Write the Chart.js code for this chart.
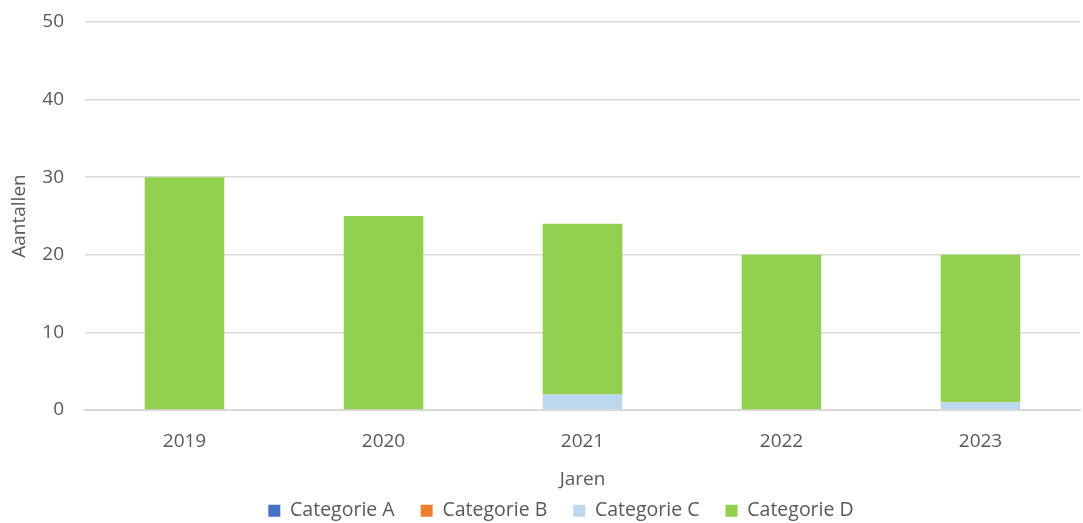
<!DOCTYPE html>
<html>
<head>
<meta charset="utf-8">
<script src="https://cdn.jsdelivr.net/npm/chart.js@4/dist/chart.umd.min.js"></script>
<style>
  html, body { margin: 0; padding: 0; background: #fff; }
  #wrap { width: 1083px; height: 523px; position: relative; }
</style>
</head>
<body>
<div id="wrap"><canvas id="chart"></canvas></div>
<script>
const years = ['2019', '2020', '2021', '2022', '2023'];
const catA = [0, 0, 0, 0, 0];
const catB = [0, 0, 0, 0, 0];
const catC = [0, 0, 2, 0, 1];
const catD = [30, 25, 22, 20, 19];
const yTicks = [0, 10, 20, 30, 40, 50];

const textColor = '#595959';
const font = { family: "'Open Sans', sans-serif", size: 19 };
const legendHeight = 24;
const legendTextY = 513;
const legendShiftX = 21;

// legend takes a thin strip at the bottom, drawn just under the axis title
const tightLegend = {
    id: 'tightLegend',
    beforeInit(chart) {
        const legend = chart.legend;
        if (!legend) return;
        const fit = legend.fit;
        legend.fit = function () {
            fit.call(this);
            this.height = legendHeight;
        };
    },
    afterLayout(chart) {
        const legend = chart.legend;
        if (!legend) return;
        const pad = legend.options.labels.padding;
        legend.top = legendTextY - pad - 12;
        legend.bottom = chart.height;
        legend.left += legendShiftX;
        legend.right += legendShiftX;
    }
};

new Chart(document.getElementById('chart'), {
    type: 'bar',
    data: {
        labels: years,
        datasets: [
            { label: 'Categorie A', data: catA, backgroundColor: '#4472C4' },
            { label: 'Categorie B', data: catB, backgroundColor: '#ED7D31' },
            { label: 'Categorie C', data: catC, backgroundColor: '#BDD7EE' },
            { label: 'Categorie D', data: catD, backgroundColor: '#92D050' }
        ]
    },
    options: {
        responsive: true,
        maintainAspectRatio: false,
        animation: false,
        categoryPercentage: 0.4,
        barPercentage: 1,
        layout: { padding: { top: 0, right: 3, left: 0, bottom: 0 } },
        plugins: {
            tooltip: { enabled: false },
            legend: {
                position: 'bottom',
                labels: {
                    color: textColor,
                    font: { family: font.family, size: 19.5 },
                    boxWidth: 12,
                    boxHeight: 12,
                    padding: 26
                }
            }
        },
        scales: {
            x: {
                stacked: true,
                afterFit: s => { s.height = 523 - 410 - legendHeight; },
                grid: { display: false, drawTicks: false },
                border: { color: '#d9d9d9', width: 2 },
                ticks: { color: textColor, font: font, padding: 20 },
                title: { display: true, text: 'Jaren', color: textColor, font: font, padding: { top: 6, bottom: 8 } }
            },
            y: {
                stacked: true,
                min: 0,
                max: 50,
                afterBuildTicks: s => { s.ticks = yTicks.map(v => ({ value: v })); },
                afterFit: s => { s.width = 85; s.paddingTop = 22; },
                grid: { color: '#d9d9d9', lineWidth: 1.5, drawTicks: false },
                border: { display: false },
                ticks: { color: textColor, font: font, padding: 21 },
                title: { display: true, text: 'Aantallen', color: textColor, font: font, padding: { top: 8, bottom: 0 } }
            }
        }
    },
    plugins: [tightLegend]
});
</script>
</body>
</html>
